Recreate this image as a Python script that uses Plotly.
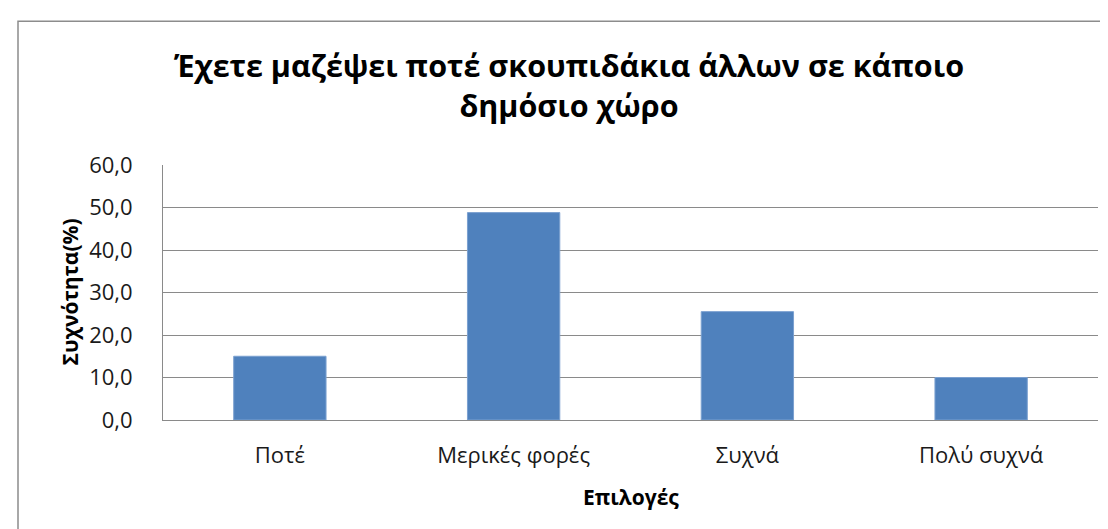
import plotly.graph_objects as go

# ── Data
categories = ["Ποτέ", "Μερικές φορές", "Συχνά", "Πολύ συχνά"]
frequency_pct = [15.0, 48.8, 25.5, 10.0]
y_ticks = [0, 10, 20, 30, 40, 50, 60]

TITLE = "Έχετε μαζέψει ποτέ σκουπιδάκια άλλων σε κάποιο<br>δημόσιο χώρο"
FONT = "'Open Sans', 'Noto Sans', sans-serif"
GRID = "#8a8a8a"

fig = go.Figure(go.Bar(
    x=categories,
    y=frequency_pct,
    marker=dict(color="#4f81bd", line=dict(color="#7ba0d0", width=1)),
    hovertemplate="<b>%{x}</b><br>%{y:.1f}%<extra></extra>",
))

fig.update_layout(
    width=1108, height=529,
    paper_bgcolor="white", plot_bgcolor="white",
    font=dict(family=FONT, color="#1a1a1a", size=22),
    separators=", ",
    margin=dict(l=155, r=18, t=157, b=117),
    bargap=0.605,
    showlegend=False,
    xaxis=dict(
        showline=True, linecolor=GRID, linewidth=1,
        ticks="", tickfont=dict(size=22), ticklabelstandoff=16,
    ),
    yaxis=dict(
        range=[0, 60], tickvals=y_ticks, tickformat=".1f",
        showgrid=True, gridcolor=GRID, gridwidth=1,
        showline=True, linecolor=GRID, linewidth=1,
        zeroline=False, ticks="", ticklabelstandoff=25,
        tickfont=dict(size=22),
    ),
    annotations=[
        dict(text=f"<b>{TITLE}</b>", xref="paper", yref="paper",
             x=(561 - 155) / 935, y=(412.5 - 77) / 255.5,
             xanchor="center", yanchor="middle", showarrow=False,
             font=dict(size=30.5, color="#000000", family=FONT)),
        dict(text="<b>Συχνότητα(%)</b>", xref="paper", yref="paper",
             x=(61 - 155) / 935, y=0.5, textangle=-90,
             xanchor="center", yanchor="middle", showarrow=False,
             font=dict(size=21, color="#000000", family=FONT)),
        dict(text="<b>Επιλογές</b>", xref="paper", yref="paper",
             x=0.5, y=(412.5 - 490) / 255.5,
             xanchor="center", yanchor="middle", showarrow=False,
             font=dict(size=21, color="#000000", family=FONT)),
    ],
    shapes=[
        dict(type="rect", xref="paper", yref="paper",
             x0=(10 - 155) / 935, x1=(1115 - 155) / 935,
             y0=(412.5 - 540) / 255.5, y1=(412.5 - 13) / 255.5,
             line=dict(color="#8c8c8c", width=1.5), layer="below"),
    ],
)

fig.write_html("out.html", config={"displayModeBar": False})
